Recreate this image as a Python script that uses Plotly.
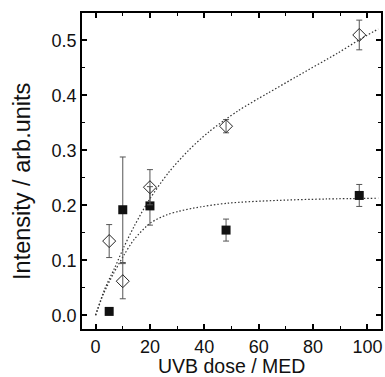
import plotly.graph_objects as go

# Measured data
dose = [5, 10, 20, 48, 97]
diamond_y = [0.135, 0.062, 0.233, 0.344, 0.510]
diamond_err = [0.030, 0.032, 0.032, 0.012, 0.027]
square_y = [0.007, 0.192, 0.199, 0.155, 0.218]
square_err = [0.0, 0.096, 0.035, 0.020, 0.020]

# Fit curves
fit_hi_x = [0, 3.3, 6.9, 10.5, 14.2, 19.6, 26.9, 34.2, 41.5, 52.4, 63.3, 74.2, 88.7, 96.6, 104]
fit_hi_y = [0, 0.047, 0.085, 0.125, 0.162, 0.209, 0.260, 0.300, 0.333, 0.372, 0.404, 0.435, 0.476, 0.500, 0.521]
fit_lo_x = [0, 3, 6.5, 10.5, 14.2, 20.2, 26.3, 30.5, 36, 48.7, 66.9, 85, 104]
fit_lo_y = [0, 0.04, 0.075, 0.11, 0.138, 0.168, 0.183, 0.189, 0.195, 0.204, 0.209, 0.2116, 0.213]

x_ticks = [0, 20, 40, 60, 80, 100]
y_ticks = [0.0, 0.1, 0.2, 0.3, 0.4, 0.5]
y_tick_labels = ["0.0", "0.1", "0.2", "0.3", "0.4", "0.5"]

FONT = "Liberation Sans, Arial, sans-serif"

fig = go.Figure()
dotted = dict(color="#333", width=1.2, dash="1.5px,2px")
fig.add_trace(go.Scatter(x=fit_hi_x, y=fit_hi_y, mode="lines", line=dict(shape="spline", smoothing=0.8, **dotted), hoverinfo="skip"))
fig.add_trace(go.Scatter(x=fit_lo_x, y=fit_lo_y, mode="lines", line=dict(shape="spline", smoothing=0.8, **dotted), hoverinfo="skip"))

fig.add_trace(go.Scatter(
    x=dose, y=square_y, mode="markers",
    marker=dict(symbol="square", size=9, color="#111", line=dict(width=0)),
    error_y=dict(type="data", array=square_err, visible=True, color="#555", thickness=1, width=3),
))
fig.add_trace(go.Scatter(
    x=dose, y=diamond_y, mode="markers",
    marker=dict(symbol="diamond-open", size=10, color="#222", line=dict(width=1)),
    error_y=dict(type="data", array=diamond_err, visible=True, color="#555", thickness=1, width=3),
))

axis_common = dict(
    showline=True, linecolor="black", linewidth=1.8, mirror="ticks",
    ticks="inside", ticklen=5, tickwidth=1.5, tickcolor="black",
    showgrid=False, zeroline=False,
    tickfont=dict(family=FONT, size=18, color="#111"),
)
fig.update_xaxes(
    range=[-5, 105], tickvals=x_ticks, ticktext=[str(v) for v in x_ticks],
    minor=dict(ticks="inside", ticklen=3, tickwidth=1.2, tickcolor="black", dtick=10, tick0=0),
    **axis_common,
)
fig.update_yaxes(
    range=[-0.025, 0.55], tickvals=y_ticks, ticktext=y_tick_labels,
    minor=dict(ticks="inside", ticklen=3, tickwidth=1.2, tickcolor="black", dtick=0.05, tick0=0),
    **axis_common,
)

fig.update_layout(
    width=385, height=377,
    margin=dict(l=82, r=2, t=13, b=48),
    paper_bgcolor="white", plot_bgcolor="white",
    showlegend=False,
    annotations=[
        dict(text="UVB dose / MED", xref="paper", yref="paper", x=0.5, y=-0.117,
             xanchor="center", yanchor="middle", showarrow=False,
             font=dict(family=FONT, size=19.5, color="#111")),
        dict(text="Intensity / arb.units", xref="paper", yref="paper", x=-0.199, y=0.467,
             xanchor="center", yanchor="middle", showarrow=False, textangle=-90,
             font=dict(family=FONT, size=23.5, color="#111")),
    ],
)

fig.write_html("out.html", config={"displayModeBar": False},
               post_script="document.body.style.margin='0';document.body.style.overflow='hidden';")
